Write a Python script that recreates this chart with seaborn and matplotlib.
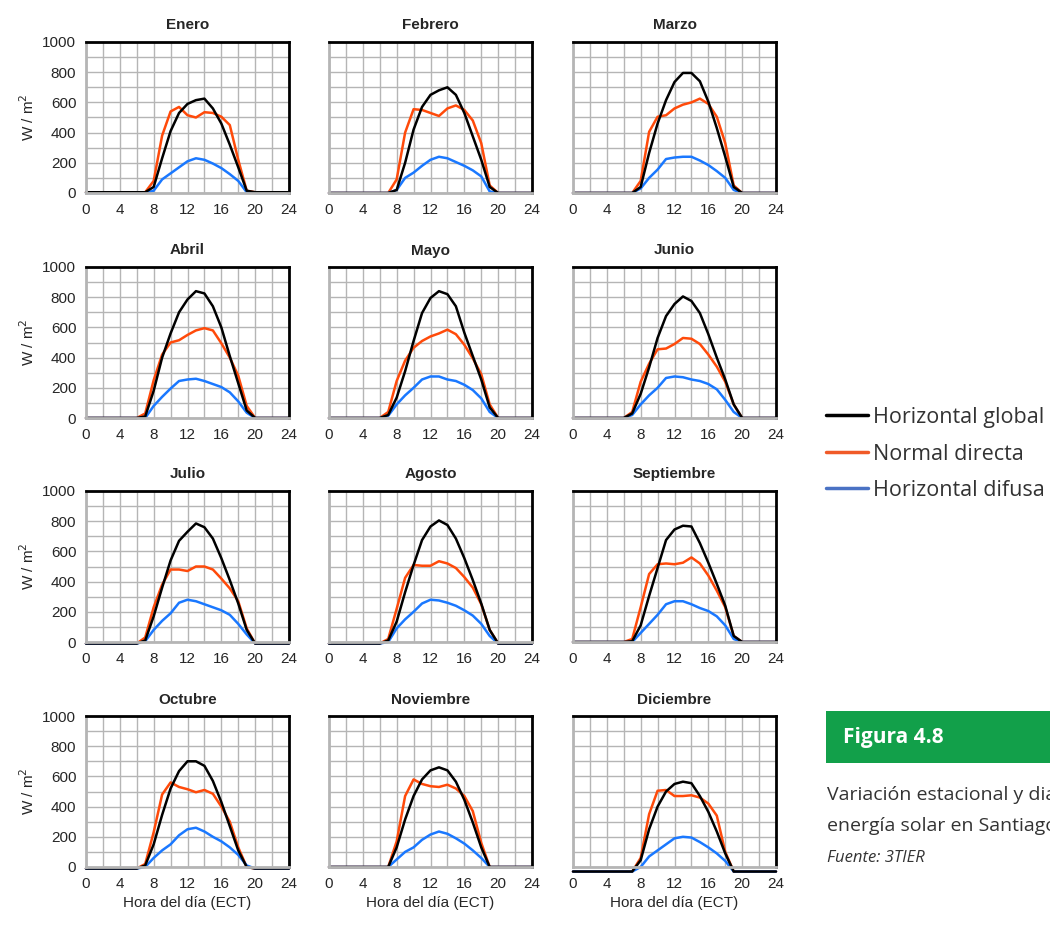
import pandas as pd
import seaborn as sns
import matplotlib.pyplot as plt
from matplotlib.lines import Line2D
from matplotlib.patches import Rectangle

horas = list(range(25))
meses = ['Enero', 'Febrero', 'Marzo', 'Abril', 'Mayo', 'Junio',
         'Julio', 'Agosto', 'Septiembre', 'Octubre', 'Noviembre', 'Diciembre']
series = ['Horizontal global', 'Normal directa', 'Horizontal difusa']

# W/m2, hours 0..24
ene_global  = [5, 5, 5, 5, 5, 5, 5, 5, 40, 230, 410, 530, 590, 615, 625, 560, 460, 320, 170, 15, 5, 5, 5, 5, 5]
ene_directa = [5, 5, 5, 5, 5, 5, 5, 5, 80, 380, 540, 570, 515, 500, 535, 530, 505, 450, 220, 15, 5, 5, 5, 5, 5]
ene_difusa  = [0, 0, 0, 0, 0, 0, 0, 0, 15, 90, 130, 170, 210, 230, 220, 195, 165, 125, 80, 5, 0, 0, 0, 0, 0]

feb_global  = [0, 0, 0, 0, 0, 0, 0, 0, 20, 200, 420, 570, 650, 680, 700, 650, 530, 375, 220, 40, 0, 0, 0, 0, 0]
feb_directa = [0, 0, 0, 0, 0, 0, 0, 0, 90, 400, 555, 550, 530, 510, 560, 580, 550, 480, 330, 50, 0, 0, 0, 0, 0]
feb_difusa  = [0, 0, 0, 0, 0, 0, 0, 0, 20, 100, 135, 180, 220, 240, 230, 205, 180, 150, 110, 10, 0, 0, 0, 0, 0]

mar_global  = [0, 0, 0, 0, 0, 0, 0, 0, 40, 265, 460, 615, 735, 795, 795, 740, 605, 430, 240, 40, 0, 0, 0, 0, 0]
mar_directa = [0, 0, 0, 0, 0, 0, 0, 0, 80, 405, 505, 515, 560, 585, 600, 625, 590, 505, 330, 50, 0, 0, 0, 0, 0]
mar_difusa  = [0, 0, 0, 0, 0, 0, 0, 0, 30, 100, 155, 225, 235, 240, 240, 215, 185, 145, 100, 20, 0, 0, 0, 0, 0]

abr_global  = [0, 0, 0, 0, 0, 0, 0, 10, 180, 400, 560, 700, 785, 840, 825, 740, 600, 410, 230, 50, 0, 0, 0, 0, 0]
abr_directa = [0, 0, 0, 0, 0, 0, 0, 30, 250, 420, 500, 515, 550, 580, 595, 580, 495, 400, 280, 80, 0, 0, 0, 0, 0]
abr_difusa  = [0, 0, 0, 0, 0, 0, 0, 0, 80, 140, 195, 245, 255, 260, 245, 225, 205, 170, 110, 35, 0, 0, 0, 0, 0]

may_global  = [0, 0, 0, 0, 0, 0, 0, 20, 135, 310, 510, 695, 795, 840, 820, 740, 565, 410, 255, 70, 0, 0, 0, 0, 0]
may_directa = [0, 0, 0, 0, 0, 0, 0, 40, 245, 380, 465, 510, 540, 560, 585, 555, 485, 395, 290, 90, 0, 0, 0, 0, 0]
may_difusa  = [0, 0, 0, 0, 0, 0, 0, 15, 90, 150, 200, 255, 275, 275, 255, 245, 220, 185, 130, 40, 0, 0, 0, 0, 0]

jun_global  = [0, 0, 0, 0, 0, 0, 0, 30, 160, 335, 530, 675, 755, 805, 775, 695, 555, 400, 255, 90, 0, 0, 0, 0, 0]
jun_directa = [0, 0, 0, 0, 0, 0, 0, 40, 240, 360, 455, 460, 490, 530, 525, 490, 420, 340, 240, 90, 0, 0, 0, 0, 0]
jun_difusa  = [0, 0, 0, 0, 0, 0, 0, 20, 90, 150, 200, 265, 275, 270, 255, 245, 225, 190, 120, 40, 0, 0, 0, 0, 0]

jul_global  = [-10, -10, -10, -10, -10, -10, -10, 10, 170, 360, 540, 670, 730, 785, 760, 685, 555, 410, 255, 80, -10, -10, -10, -10, -10]
jul_directa = [-10, -10, -10, -10, -10, -10, -10, 30, 230, 380, 480, 480, 470, 500, 500, 480, 420, 355, 270, 90, -10, -10, -10, -10, -10]
jul_difusa  = [-10, -10, -10, -10, -10, -10, -10, 5, 80, 140, 190, 260, 280, 270, 250, 230, 210, 180, 120, 50, -10, -10, -10, -10, -10]

ago_global  = [-10, -10, -10, -10, -10, -10, -10, 10, 135, 330, 510, 675, 765, 805, 775, 685, 555, 410, 255, 80, -10, -10, -10, -10, -10]
ago_directa = [-10, -10, -10, -10, -10, -10, -10, 20, 220, 425, 510, 505, 505, 535, 520, 490, 430, 360, 250, 80, -10, -10, -10, -10, -10]
ago_difusa  = [-10, -10, -10, -10, -10, -10, -10, 0, 90, 150, 200, 255, 280, 275, 260, 240, 210, 175, 120, 40, -10, -10, -10, -10, -10]

sep_global  = [0, 0, 0, 0, 0, 0, 0, 5, 110, 305, 490, 675, 745, 770, 765, 655, 525, 385, 240, 40, 0, 0, 0, 0, 0]
sep_directa = [0, 0, 0, 0, 0, 0, 0, 20, 230, 450, 515, 520, 515, 525, 560, 520, 440, 340, 230, 40, 0, 0, 0, 0, 0]
sep_difusa  = [0, 0, 0, 0, 0, 0, 0, 0, 60, 120, 180, 250, 270, 270, 250, 225, 205, 170, 110, 20, 0, 0, 0, 0, 0]

oct_global  = [-10, -10, -10, -10, -10, -10, -10, 10, 150, 345, 520, 635, 700, 700, 670, 570, 430, 270, 110, 0, -10, -10, -10, -10, -10]
oct_directa = [-10, -10, -10, -10, -10, -10, -10, 20, 230, 480, 560, 530, 515, 495, 510, 485, 400, 300, 130, 0, -10, -10, -10, -10, -10]
oct_difusa  = [-10, -10, -10, -10, -10, -10, -10, 0, 60, 110, 150, 210, 250, 260, 235, 200, 170, 130, 80, 10, -10, -10, -10, -10, -10]

nov_global  = [0, 0, 0, 0, 0, 0, 0, 0, 130, 315, 470, 580, 640, 660, 640, 565, 445, 295, 130, 0, 0, 0, 0, 0, 0]
nov_directa = [0, 0, 0, 0, 0, 0, 0, 0, 170, 470, 580, 550, 535, 530, 545, 520, 470, 370, 160, 0, 0, 0, 0, 0, 0]
nov_difusa  = [0, 0, 0, 0, 0, 0, 0, 0, 50, 100, 130, 180, 215, 235, 220, 190, 155, 110, 60, 0, 0, 0, 0, 0, 0]

dic_global  = [-30, -30, -30, -30, -30, -30, -30, -30, 45, 250, 400, 500, 550, 565, 555, 470, 365, 235, 90, -30, -30, -30, -30, -30, -30]
dic_directa = [-30, -30, -30, -30, -30, -30, -30, -30, 60, 350, 505, 510, 470, 470, 475, 460, 420, 340, 100, -30, -30, -30, -30, -30, -30]
dic_difusa  = [-30, -30, -30, -30, -30, -30, -30, -30, 0, 70, 110, 150, 190, 200, 195, 165, 130, 90, 40, -30, -30, -30, -30, -30, -30]

datos = {
    'Enero': (ene_global, ene_directa, ene_difusa),
    'Febrero': (feb_global, feb_directa, feb_difusa),
    'Marzo': (mar_global, mar_directa, mar_difusa),
    'Abril': (abr_global, abr_directa, abr_difusa),
    'Mayo': (may_global, may_directa, may_difusa),
    'Junio': (jun_global, jun_directa, jun_difusa),
    'Julio': (jul_global, jul_directa, jul_difusa),
    'Agosto': (ago_global, ago_directa, ago_difusa),
    'Septiembre': (sep_global, sep_directa, sep_difusa),
    'Octubre': (oct_global, oct_directa, oct_difusa),
    'Noviembre': (nov_global, nov_directa, nov_difusa),
    'Diciembre': (dic_global, dic_directa, dic_difusa),
}

filas = []
for mes, valores in datos.items():
    for serie, v in zip(series, valores):
        for h, y in zip(horas, v):
            filas.append((mes, serie, h, y))
df = pd.DataFrame(filas, columns=['mes', 'serie', 'hora', 'valor'])

sns.set_style('white')
plt.rcParams['font.family'] = ['Liberation Sans', 'DejaVu Sans']

colores = {'Horizontal global': '#000000', 'Normal directa': '#ff4a0a', 'Horizontal difusa': '#1a78ff'}
orden = ['Normal directa', 'Horizontal difusa', 'Horizontal global']

fig = plt.figure(figsize=(10.5, 9.26), dpi=100)
W, H = 1050, 926
lefts = [86, 329, 573]
tops = [42, 267, 491, 716]

for i, mes in enumerate(meses):
    r, c = divmod(i, 3)
    ax = fig.add_axes([lefts[c] / W, 1 - (tops[r] + 151) / H, 203 / W, 151 / H])
    sns.lineplot(data=df[df.mes == mes], x='hora', y='valor', hue='serie', hue_order=orden,
                 palette=colores, lw=1.8, legend=False, estimator=None, ax=ax)
    for ln in ax.lines:
        ln.set_clip_on(False)
    ax.set_xlim(0, 24)
    ax.set_ylim(0, 1000)
    ax.set_xticks(range(0, 25, 4))
    ax.set_xticks(range(0, 25, 2), minor=True)
    ax.set_yticks(range(0, 1001, 200))
    ax.set_yticks(range(0, 1001, 100), minor=True)
    ax.set_axisbelow(True)
    ax.grid(which='both', color='#b5b5b5', lw=1.0)
    ax.tick_params(which='minor', length=0)
    ax.tick_params(which='major', length=4, width=1, color='black', labelsize=11, pad=3)
    for s in ['left', 'bottom']:
        ax.spines[s].set_color('#b5b5b5')
        ax.spines[s].set_linewidth(2)
    for s in ['top', 'right']:
        ax.spines[s].set_color('black')
        ax.spines[s].set_linewidth(2)
    ax.set_title(mes, fontweight='bold', fontsize=11, pad=9)
    if c == 0:
        ax.set_ylabel('W / m$^2$', fontsize=11)
    else:
        ax.set_ylabel('')
        ax.tick_params(axis='y', left=False, labelleft=False)
    ax.set_xlabel('Hora del día (ECT)' if r == 3 else '', fontsize=11)

handles = [Line2D([], [], color='#000000', lw=2.5),
           Line2D([], [], color='#f05a28', lw=2.5),
           Line2D([], [], color='#4a72c4', lw=2.5)]
fig.legend(handles, series, loc='upper left', bbox_to_anchor=(826 / W, 1 - 407 / H),
           frameon=False, handlelength=1.95, handletextpad=0.25, labelspacing=0.72,
           borderpad=0, borderaxespad=0, labelcolor='#333333',
           prop={'family': 'Open Sans', 'size': 15.5})

fig.add_artist(Rectangle((826 / W, 1 - 763 / H), 0.3, 52 / H, transform=fig.transFigure,
                         color='#12a04a', lw=0))
fig.text(843 / W, 1 - 737 / H, 'Figura 4.8', color='white', fontweight='bold', fontsize=15,
         va='center', family='Open Sans')
fig.text(827 / W, 1 - 795 / H, 'Variación estacional y diaria de la', va='center', fontsize=14,
         color='#333333', family='Open Sans')
fig.text(827 / W, 1 - 826 / H, 'energía solar en Santiago', va='center', fontsize=14,
         color='#333333', family='Open Sans')
fig.text(827 / W, 1 - 858 / H, 'Fuente: 3TIER', va='center', fontsize=12, style='italic',
         color='#333333', family='Open Sans')

fig.savefig('out.png', dpi=100)
